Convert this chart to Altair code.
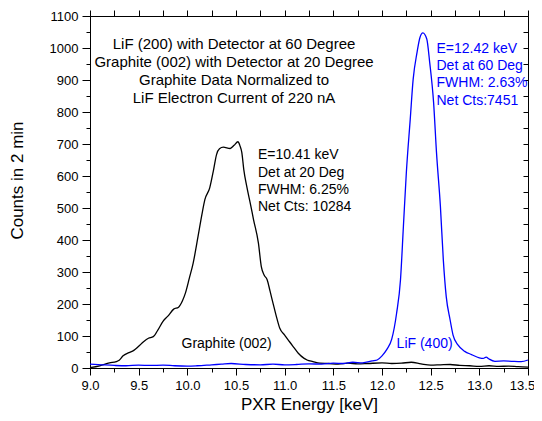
import altair as alt
import pandas as pd

FONT = "Liberation Sans"

# ---- data ----
graphite_e = [9.0, 9.1, 9.2, 9.27, 9.3, 9.34, 9.4, 9.45, 9.5, 9.55, 9.6, 9.65, 9.7, 9.75,
              9.8, 9.86, 9.91, 9.95, 9.98, 10.02, 10.06, 10.11, 10.15, 10.18, 10.23, 10.27,
              10.30, 10.33, 10.37, 10.44, 10.48, 10.52, 10.54, 10.56, 10.58, 10.61, 10.65,
              10.68, 10.73, 10.76, 10.79, 10.82, 10.85, 10.88, 10.92, 10.95, 11.0, 11.05,
              11.1, 11.14, 11.2, 11.23, 11.29, 11.36, 11.45, 11.55, 11.65, 11.75, 11.85,
              12.0, 12.1, 12.2, 12.3, 12.4, 12.5, 12.6, 12.7, 12.8, 12.9, 13.0, 13.1, 13.2,
              13.3, 13.4, 13.5]
graphite_c = [1, 7, 16, 20, 24, 38, 48, 55, 68, 82, 93, 98, 120, 146,
              162, 184, 190, 210, 234, 280, 328, 411, 480, 526, 563, 620,
              667, 685, 690, 686, 696, 707, 695, 673, 620, 568, 510,
              464, 391, 317, 290, 276, 240, 203, 155, 124, 103, 82,
              62, 46, 30, 25, 20, 15, 14, 12, 15, 13, 14,
              16, 14, 15, 18, 13, 9, 10, 11, 8, 7, 5, 7, 5,
              6, 4, 3]

lif_e = [9.0, 9.12, 9.25, 9.37, 9.5, 9.62, 9.75, 9.87, 10.0, 10.1, 10.25, 10.35, 10.45,
         10.6, 10.75, 10.88, 11.0, 11.12, 11.25, 11.38, 11.5, 11.6, 11.7, 11.8, 11.9,
         11.95, 12.0, 12.05, 12.1, 12.15, 12.19, 12.22, 12.25, 12.29, 12.32, 12.36,
         12.39, 12.42, 12.46, 12.49, 12.53, 12.56, 12.60, 12.63, 12.66, 12.70, 12.73,
         12.78, 12.85, 12.92, 13.0, 13.04, 13.07, 13.1, 13.16, 13.25, 13.33, 13.43, 13.5]
lif_c = [12, 10, 8, 7, 9, 8, 9, 7, 6, 7, 10, 12, 14,
         11, 10, 12, 10, 11, 13, 12, 15, 14, 18, 16, 22,
         25, 38, 58, 90, 171, 276, 443, 610, 777, 902, 986,
         1033, 1047, 1028, 955, 830, 673, 505, 338, 223, 150, 103,
         72, 52, 42, 32, 30, 34, 28, 21, 22, 21, 20, 25]

x_major = [9.0, 9.5, 10.0, 10.5, 11.0, 11.5, 12.0, 12.5, 13.0, 13.5]
x_minor = [9.25, 9.75, 10.25, 10.75, 11.25, 11.75, 12.25, 12.75, 13.25]
x_top = sorted(x_major + x_minor)
y_major = [0, 100, 200, 300, 400, 500, 600, 700, 800, 900, 1000, 1100]
y_minor = [50, 150, 250, 350, 450, 550, 650, 750, 850, 950, 1050]
y_right = sorted(y_major + y_minor)

title_lines = ["LiF (200) with Detector at 60 Degree",
               "Graphite (002) with Detector at 20 Degree",
               "Graphite Data Normalized to",
               "LiF Electron Current of 220 nA"]
title_x = [10.48] * 4
title_y = [998, 941, 884, 827]

g_lines = ["E=10.41 keV", "Det at 20 Deg", "FWHM: 6.25%", "Net Cts: 10284"]
g_x = [10.726] * 4
g_y = [652, 597, 544, 491]

l_lines = ["E=12.42 keV", "Det at 60 Deg", "FWHM: 2.63%", "Net Cts:7451"]
l_x = [12.56] * 4
l_y = [983, 930, 877, 823]

label_text = ["Graphite (002)", "LiF (400)"]
label_x = [9.94, 12.15]
label_y = [63, 61]
label_color = ["black", "#0000ff"]

# ---- build tables ----
lines_df = pd.concat([
    pd.DataFrame({"E": graphite_e, "c": graphite_c, "series": "Graphite"}),
    pd.DataFrame({"E": lif_e, "c": lif_c, "series": "LiF"}),
], ignore_index=True)

xs = alt.Scale(domain=[9, 13.5], nice=False, zero=False)
ys = alt.Scale(domain=[0, 1100], nice=False, zero=False)

common = dict(grid=False, domainColor="black", tickColor="black", tickWidth=1,
              labelColor="black", titleColor="black", labelFont=FONT, titleFont=FONT)

x_axis_major = alt.Axis(orient="bottom", values=x_major, format=".1f", tickSize=7,
                        labelFontSize=13, labelPadding=4, labelFlush=False, labelOverlap=False,
                        labelOffset={"condition": {"test": "datum.value == 13.5", "value": -6},
                                     "value": 0},
                        title="PXR Energy [keV]", titleFontSize=17, titleFontWeight="normal",
                        titleX=219, titleY=41, titleAlign="center", titleBaseline="alphabetic",
                        domainWidth=1, **common)
y_axis_major = alt.Axis(orient="left", values=y_major, format="d", tickSize=8,
                        labelFontSize=13, labelPadding=4, labelFlush=False, labelOverlap=False,
                        title="Counts in 2 min", titleFontSize=17, titleFontWeight="normal",
                        titleAngle=270, titleX=-68, titleY=164, titleAlign="center",
                        titleBaseline="alphabetic", domainWidth=1, **common)

lines = alt.Chart(lines_df).mark_line(strokeWidth=1.3, interpolate="monotone").encode(
    x=alt.X("E:Q", scale=xs, axis=x_axis_major),
    y=alt.Y("c:Q", scale=ys, axis=y_axis_major),
    color=alt.Color("series:N", scale=alt.Scale(domain=["Graphite", "LiF"],
                                                range=["black", "#0000ff"]), legend=None),
)

minor = alt.Chart(lines_df).mark_line(strokeOpacity=0).encode(
    x=alt.X("E:Q", scale=xs, axis=alt.Axis(orient="bottom", values=x_minor, tickSize=4,
                                           labels=False, domain=False, title=None, **common)),
    y=alt.Y("c:Q", scale=ys, axis=alt.Axis(orient="left", values=y_minor, tickSize=4,
                                           labels=False, domain=False, title=None, **common)),
    detail="series:N",
)

topright = alt.Chart(lines_df).mark_line(strokeOpacity=0).encode(
    x=alt.X("E:Q", scale=xs, axis=alt.Axis(orient="top", values=x_top, tickSize=6,
                                           labels=False, domain=False, title=None, **common)),
    y=alt.Y("c:Q", scale=ys, axis=alt.Axis(orient="right", values=y_right, tickSize=5,
                                           offset=-5, labels=False, domain=False, title=None,
                                           **common)),
    detail="series:N",
)

def text_layer(xv, yv, tv, size, align, color):
    df = pd.DataFrame({"x": xv, "y": yv, "t": tv})
    return alt.Chart(df).mark_text(align=align, baseline="alphabetic", fontSize=size,
                                   font=FONT, color=color).encode(
        x=alt.X("x:Q", scale=xs, axis=None),
        y=alt.Y("y:Q", scale=ys, axis=None),
        text="t:N",
    )

title_txt = text_layer(title_x, title_y, title_lines, 15, "center", "black")
g_txt = text_layer(g_x, g_y, g_lines, 14, "left", "black")
l_txt = text_layer(l_x, l_y, l_lines, 14, "left", "#0000ff")

lab_df = pd.DataFrame({"x": label_x, "y": label_y, "t": label_text, "col": label_color})
labels = alt.Chart(lab_df).mark_text(align="left", baseline="alphabetic", fontSize=14,
                                     font=FONT).encode(
    x=alt.X("x:Q", scale=xs, axis=None),
    y=alt.Y("y:Q", scale=ys, axis=None),
    text="t:N",
    color=alt.Color("col:N", scale=None),
)

chart = alt.layer(lines, minor, topright, title_txt, g_txt, l_txt, labels).resolve_axis(
    x="independent", y="independent"
).properties(
    width=438, height=352,
    autosize=alt.AutoSizeParams(type="none"),
    padding={"left": 82, "top": 8, "right": 6, "bottom": 45},
).configure_view(stroke="black", strokeWidth=1)

chart.save("out.html", embed_options={"renderer": "svg", "actions": False})
